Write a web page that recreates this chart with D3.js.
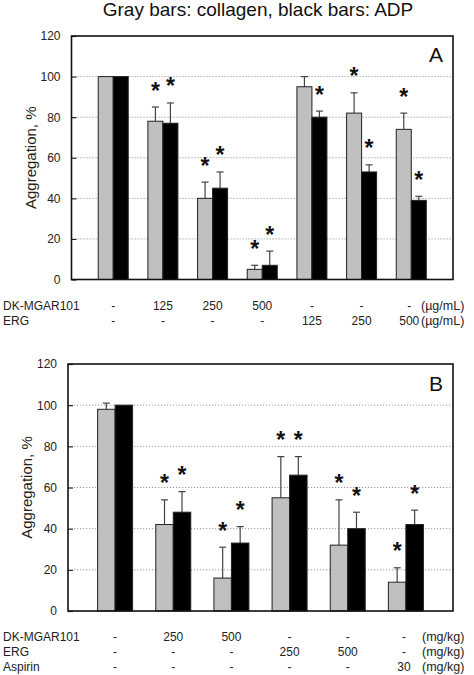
<!DOCTYPE html>
<html>
<head>
<meta charset="utf-8">
<script src="https://cdn.jsdelivr.net/npm/d3@7"></script>
<style>
  html, body { margin: 0; padding: 0; background: #fff; }
  svg { display: block; font-family: "Liberation Sans", Arial, sans-serif; }
</style>
</head>
<body>
<div id="chart"></div>
<script>
// ---------- DATA ----------
const title = "Gray bars: collagen, black bars: ADP";
const yTicks = [0, 20, 40, 60, 80, 100, 120];

// Panel A
const rowNamesA = ["DK-MGAR101", "ERG"];
const rowUnitsA = ["(µg/mL)", "(µg/mL)"];
const dkA = ["-", "125", "250", "500", "-", "-", "-"];
const ergA = ["-", "-", "-", "-", "125", "250", "500"];
const grayA = [100, 78, 40, 5, 95, 82, 74];
const grayErrA = [0, 7, 8, 2, 5, 10, 8];
const blackA = [100, 77, 45, 7, 80, 53, 39];
const blackErrA = [0, 10, 8, 7, 3, 3.5, 2];
const graySigA = [false, true, true, true, false, true, true];
const blackSigA = [false, true, true, true, true, true, true];

// Panel B
const rowNamesB = ["DK-MGAR101", "ERG", "Aspirin"];
const rowUnitsB = ["(mg/kg)", "(mg/kg)", "(mg/kg)"];
const dkB = ["-", "250", "500", "-", "-", "-"];
const ergB = ["-", "-", "-", "250", "500", "-"];
const aspB = ["-", "-", "-", "-", "-", "30"];
const grayB = [98, 42, 16, 55, 32, 14];
const grayErrB = [3, 12, 15, 20, 22, 7];
const blackB = [100, 48, 33, 66, 40, 42];
const blackErrB = [0, 10, 8, 9, 8, 7];
const graySigB = [false, true, true, true, true, true];
const blackSigB = [false, true, true, true, true, true];

// ---------- DRAW ----------
const W = 474, H = 675;
const svg = d3.select("#chart").append("svg").attr("width", W).attr("height", H);

svg.append("text")
  .attr("x", 258).attr("y", 16)
  .attr("text-anchor", "middle")
  .attr("font-size", 19)
  .attr("fill", "#111")
  .text(title);

function panel(cfg) {
  const g = svg.append("g");
  const n = cfg.gray.length;
  const x = d3.scalePoint().domain(d3.range(n)).range([cfg.left, cfg.right]).padding(cfg.pad);
  const y = d3.scaleLinear().domain([0, 120]).range([cfg.bottom, cfg.top]);
  const bw = cfg.bw;

  // grid
  g.append("g").selectAll("line").data(yTicks.filter(t => t > 0 && t < 120)).join("line")
    .attr("x1", cfg.left + 6).attr("x2", cfg.right)
    .attr("y1", d => y(d)).attr("y2", d => y(d))
    .attr("stroke", "#9a9a9a").attr("stroke-width", 1).attr("stroke-dasharray", "1.2,1.8");

  // left axis with inward ticks
  const ax = g.append("g").attr("transform", `translate(${cfg.left},0)`)
    .call(d3.axisLeft(y).tickValues(yTicks).tickSizeInner(-5).tickSizeOuter(0).tickPadding(11));
  ax.select(".domain").remove();
  ax.selectAll(".tick line").attr("stroke", "#222").attr("stroke-width", 1.2);
  ax.selectAll(".tick text").attr("font-size", 12).attr("fill", "#222")
    .attr("font-family", "Liberation Sans, Arial, sans-serif");

  // bars
  const series = [
    { vals: cfg.gray, errs: cfg.grayErr, sig: cfg.graySig, fill: "#c0c0c0", off: -bw },
    { vals: cfg.black, errs: cfg.blackErr, sig: cfg.blackSig, fill: "#000", off: 0 }
  ];
  series.forEach(s => {
    const sg = g.append("g");
    const pts = s.vals.map((v, i) => ({ i, v, e: s.errs[i], sig: s.sig[i], cx: x(i) + s.off + bw / 2 }));
    // error bars
    const eb = pts.filter(p => p.e > 0);
    sg.selectAll("line.stem").data(eb).join("line").attr("class", "stem")
      .attr("x1", p => p.cx).attr("x2", p => p.cx)
      .attr("y1", p => y(p.v)).attr("y2", p => y(p.v + p.e))
      .attr("stroke", "#444").attr("stroke-width", 1.2);
    sg.selectAll("line.cap").data(eb).join("line").attr("class", "cap")
      .attr("x1", p => p.cx - 3.5).attr("x2", p => p.cx + 3.5)
      .attr("y1", p => y(p.v + p.e)).attr("y2", p => y(p.v + p.e))
      .attr("stroke", "#444").attr("stroke-width", 1.2);
    sg.selectAll("rect").data(pts).join("rect")
      .attr("x", p => p.cx - bw / 2)
      .attr("y", p => y(p.v))
      .attr("width", bw)
      .attr("height", p => y(0) - y(p.v))
      .attr("fill", s.fill)
      .attr("stroke", "#222").attr("stroke-width", 1);
    // asterisks
    sg.selectAll("text.star").data(pts.filter(p => p.sig)).join("text")
      .attr("class", "star")
      .attr("x", p => p.cx)
      .attr("y", p => y(p.v + p.e) - 21 + 12.5)
      .attr("text-anchor", "middle")
      .attr("font-size", 23).attr("font-weight", "bold")
      .attr("fill", "#111")
      .text("*");
  });

  // frame
  g.append("rect")
    .attr("x", cfg.left).attr("y", cfg.top)
    .attr("width", cfg.right - cfg.left).attr("height", cfg.bottom - cfg.top)
    .attr("fill", "none").attr("stroke", "#111").attr("stroke-width", 1.6);

  // panel letter
  g.append("text").attr("x", cfg.right - 17).attr("y", cfg.letterY)
    .attr("text-anchor", "middle").attr("font-size", 21).attr("fill", "#111")
    .text(cfg.letter);

  // y label
  g.append("text")
    .attr("transform", `translate(${cfg.ylabX},${(cfg.top + cfg.bottom) / 2}) rotate(-90)`)
    .attr("text-anchor", "middle").attr("font-size", 15).attr("fill", "#222")
    .text("Aggregation, %");

  // condition rows
  cfg.rows.forEach((r, ri) => {
    const yy = cfg.rowY0 + ri * 15;
    g.append("text").attr("x", 3).attr("y", yy).attr("font-size", 12).attr("fill", "#222").text(r.name);
    g.selectAll(null).data(r.vals).join("text")
      .attr("x", (d, i) => x(i) - (i === n - 1 ? 2 : 0)).attr("y", yy)
      .attr("text-anchor", "middle").attr("font-size", 12).attr("fill", "#222")
      .text(d => d);
    g.append("text").attr("x", cfg.unitX).attr("y", yy).attr("font-size", 12.5).attr("fill", "#222").text(r.unit);
  });
}

panel({
  left: 71.5, right: 453, top: 36, bottom: 279.5, pad: 0.84, bw: 15,
  gray: grayA, grayErr: grayErrA, graySig: graySigA,
  black: blackA, blackErr: blackErrA, blackSig: blackSigA,
  letter: "A", letterY: 61.5, ylabX: 36,
  rows: [
    { name: rowNamesA[0], vals: dkA, unit: rowUnitsA[0] },
    { name: rowNamesA[1], vals: ergA, unit: rowUnitsA[1] }
  ],
  rowY0: 310, unitX: 421
});

panel({
  left: 68, right: 453, top: 364, bottom: 611, pad: 0.81, bw: 17.5,
  gray: grayB, grayErr: grayErrB, graySig: graySigB,
  black: blackB, blackErr: blackErrB, blackSig: blackSigB,
  letter: "B", letterY: 390.5, ylabX: 32,
  rows: [
    { name: rowNamesB[0], vals: dkB, unit: rowUnitsB[0] },
    { name: rowNamesB[1], vals: ergB, unit: rowUnitsB[1] },
    { name: rowNamesB[2], vals: aspB, unit: rowUnitsB[2] }
  ],
  rowY0: 641, unitX: 422
});
</script>
</body>
</html>
